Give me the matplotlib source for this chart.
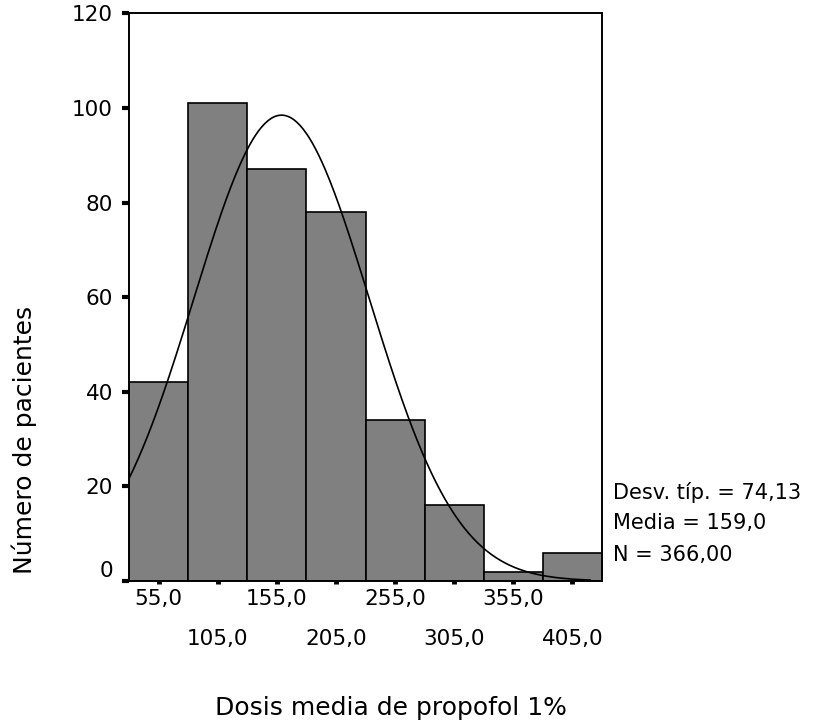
import numpy as np
import matplotlib
matplotlib.use('Agg')
import matplotlib.pyplot as plt

plt.rcParams['font.family'] = ['DejaVu Sans']

# histogram bins (width 50) and patient counts
centros = [55, 105, 155, 205, 255, 305, 355, 405]
pacientes = [42, 101, 87, 78, 34, 16, 2, 6]
ancho = 50
media, desv, n = 159.0, 74.13, 366
etiquetas = ['55,0', '105,0', '155,0', '205,0', '255,0', '305,0', '355,0', '405,0']

fig = plt.figure(figsize=(8.29, 7.27), dpi=100)
ax = fig.add_axes([0.1556, 0.2008, 0.5706, 0.7808])

ax.bar(centros, pacientes, width=ancho, color='#808080', edgecolor='black', linewidth=1.2)

# normal curve scaled to counts
xs = np.linspace(30, 420, 300)
ys = n * ancho / (desv * np.sqrt(2 * np.pi)) * np.exp(-0.5 * ((xs - media) / desv) ** 2)
ax.plot(xs, ys, color='black', linewidth=1.2)

ax.set_xlim(30, 430)
ax.set_ylim(0, 120)
for s in ax.spines.values():
    s.set_linewidth(1.4)

ax.set_yticks([0, 20, 40, 60, 80, 100, 120])
ax.tick_params(axis='y', direction='out', length=5, width=3, pad=6.5, labelsize=15.5)
ax.get_yticklabels()[0].set_va('bottom')

# alternate rows of x labels
ax.set_xticks(centros[0::2], etiquetas[0::2])
ax.set_xticks(centros[1::2], etiquetas[1::2], minor=True)
ax.tick_params(axis='x', which='both', direction='out', length=2, width=3.5, labelsize=15.5)
ax.tick_params(axis='x', which='major', pad=4)
ax.tick_params(axis='x', which='minor', pad=32.5)

ax.set_ylabel('Número de pacientes', fontsize=18)
ax.yaxis.set_label_coords(-0.222, 0.248)
ax.yaxis.label.set_va('center')
ax.set_xlabel('Dosis media de propofol 1%', fontsize=18)
ax.xaxis.set_label_coords(0.554, -0.224)
ax.xaxis.label.set_va('center')

tr = ax.get_yaxis_transform()
ax.text(1.023, 18.8, 'Desv. típ. = 74,13', transform=tr, fontsize=15, va='center', ha='left')
ax.text(1.023, 12.3, 'Media = 159,0', transform=tr, fontsize=15, va='center', ha='left')
ax.text(1.023, 5.5, 'N = 366,00', transform=tr, fontsize=15, va='center', ha='left')

fig.savefig('out.png', dpi=100)
